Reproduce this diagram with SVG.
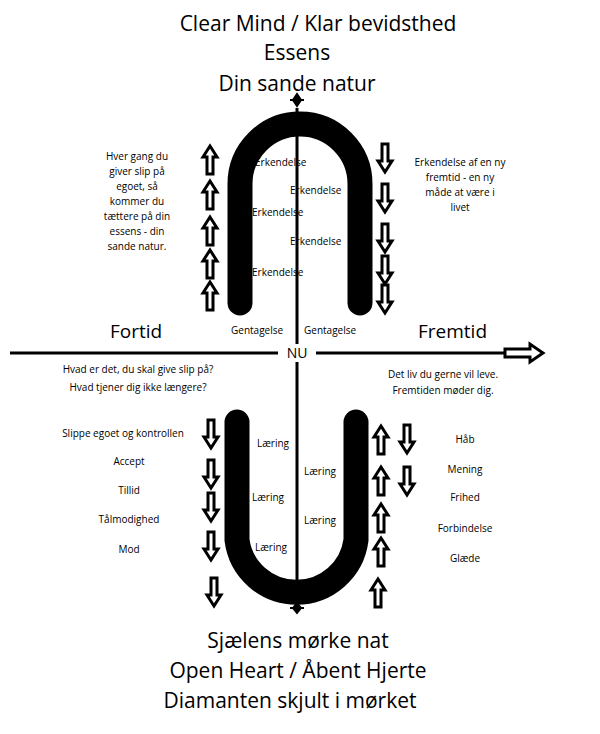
<svg xmlns="http://www.w3.org/2000/svg" width="600" height="734" viewBox="0 0 600 734">
<style>
.t{font-family:"Open Sans","Liberation Sans",sans-serif;fill:#000}
.big{font-size:21px}
.s{font-size:10px}
.m{font-size:11px}
.ar{fill:#fff;stroke:#000;stroke-width:3;stroke-linejoin:miter}
</style>
<defs>
<polygon id="up" class="ar" points="0,-14 7,-3 3,-3 3,14 -3,14 -3,-3 -7,-3"/>
<polygon id="dn" class="ar" points="0,14 7,3 3,3 3,-14 -3,-14 -3,3 -7,3"/>
</defs>
<rect width="600" height="734" fill="#fff"/>
<g id="texts-top">
<text class="t big" x="318" y="31" text-anchor="middle">Clear Mind / Klar bevidsthed</text>
<text class="t big" x="297" y="60" text-anchor="middle">Essens</text>
<text class="t big" x="297" y="91" text-anchor="middle">Din sande natur</text>
</g>
<g id="texts-bottom">
<text class="t big" x="298" y="648" text-anchor="middle">Sjælens mørke nat</text>
<text class="t big" x="298" y="678" text-anchor="middle">Open Heart / Åbent Hjerte</text>
<text class="t big" x="290" y="708" text-anchor="middle">Diamanten skjult i mørket</text>
</g>
<g id="connectors">
<line x1="297" y1="108" x2="297" y2="602" stroke="#000" stroke-width="3"/>
<line x1="10" y1="353" x2="505" y2="353" stroke="#000" stroke-width="3"/>
<polygon class="ar" points="505,349 530,349 530,344 543,353 530,362 530,357 505,357" stroke-width="2.5"/>
<path d="M240,303 V184 A60,60 0 0 1 360,184 V303" fill="none" stroke="#000" stroke-width="25" stroke-linecap="round"/>
<path d="M237,422 V540 A60,60 0 0 0 356,540 V422" fill="none" stroke="#000" stroke-width="25" stroke-linecap="round"/>
<path d="M297,94 L301,100 L297,106 L293,100Z M290,100 H304" fill="#000" stroke="#000" stroke-width="2"/>
<path d="M297,603 L301,608 L297,613 L293,608Z M290,608 H304" fill="#000" stroke="#000" stroke-width="2"/>
</g>
<rect x="278" y="344" width="38" height="18" fill="#fff"/>
<text class="t" font-size="14" x="297" y="358" text-anchor="middle">NU</text>
<text class="t" font-size="19" x="110" y="338">Fortid</text>
<text class="t" font-size="19" x="418" y="338">Fremtid</text>
<g id="arrows-top-left">
<use href="#up" x="210" y="160"/><use href="#up" x="210" y="195"/><use href="#up" x="210" y="231"/><use href="#up" x="210" y="264"/><use href="#up" x="210" y="296"/>
</g>
<g id="arrows-top-right">
<use href="#dn" x="385" y="158"/><use href="#dn" x="385" y="198"/><use href="#dn" x="385" y="238"/><use href="#dn" x="385" y="270"/><use href="#dn" x="385" y="299"/>
</g>
<g id="arrows-bottom-left">
<use href="#dn" x="211" y="434"/><use href="#dn" x="211" y="474"/><use href="#dn" x="211" y="507"/><use href="#dn" x="211" y="546"/><use href="#dn" x="214" y="592"/>
</g>
<g id="arrows-bottom-right">
<use href="#up" x="381" y="440"/><use href="#up" x="381" y="481"/><use href="#up" x="381" y="518"/><use href="#up" x="381" y="552"/><use href="#up" x="378" y="593"/>
<use href="#dn" x="407" y="439"/><use href="#dn" x="407" y="481"/>
</g>
<g id="labels">
<text class="t s" x="255" y="166">Erkendelse</text>
<text class="t s" x="290" y="194">Erkendelse</text>
<text class="t s" x="252" y="216">Erkendelse</text>
<text class="t s" x="290" y="245">Erkendelse</text>
<text class="t s" x="252" y="276">Erkendelse</text>
<text class="t s" x="231" y="334">Gentagelse</text>
<text class="t s" x="304" y="334">Gentagelse</text>
<text class="t s" x="257" y="447">Læring</text>
<text class="t s" x="304" y="475">Læring</text>
<text class="t s" x="252" y="501">Læring</text>
<text class="t s" x="304" y="524">Læring</text>
<text class="t s" x="255" y="551">Læring</text>
</g>
<g id="side-texts" class="t s" text-anchor="middle">
<text x="137" y="160">Hver gang du</text>
<text x="137" y="175">giver slip på</text>
<text x="137" y="190">egoet, så</text>
<text x="137" y="205">kommer du</text>
<text x="137" y="220">tættere på din</text>
<text x="137" y="235">essens - din</text>
<text x="137" y="250">sande natur.</text>
<text x="460" y="166">Erkendelse af en ny</text>
<text x="460" y="181">fremtid - en ny</text>
<text x="460" y="196">måde at være i</text>
<text x="460" y="211">livet</text>
<text x="138" y="373">Hvad er det, du skal give slip på?</text>
<text x="138" y="391">Hvad tjener dig ikke længere?</text>
<text x="443" y="378">Det liv du gerne vil leve.</text>
<text x="443" y="394">Fremtiden møder dig.</text>
<text x="123" y="437">Slippe egoet og kontrollen</text>
<text x="129" y="465">Accept</text>
<text x="129" y="494">Tillid</text>
<text x="129" y="523">Tålmodighed</text>
<text x="129" y="553">Mod</text>
<text x="465" y="443">Håb</text>
<text x="465" y="473">Mening</text>
<text x="465" y="501">Frihed</text>
<text x="465" y="532">Forbindelse</text>
<text x="465" y="562">Glæde</text>
</g>
</svg>
